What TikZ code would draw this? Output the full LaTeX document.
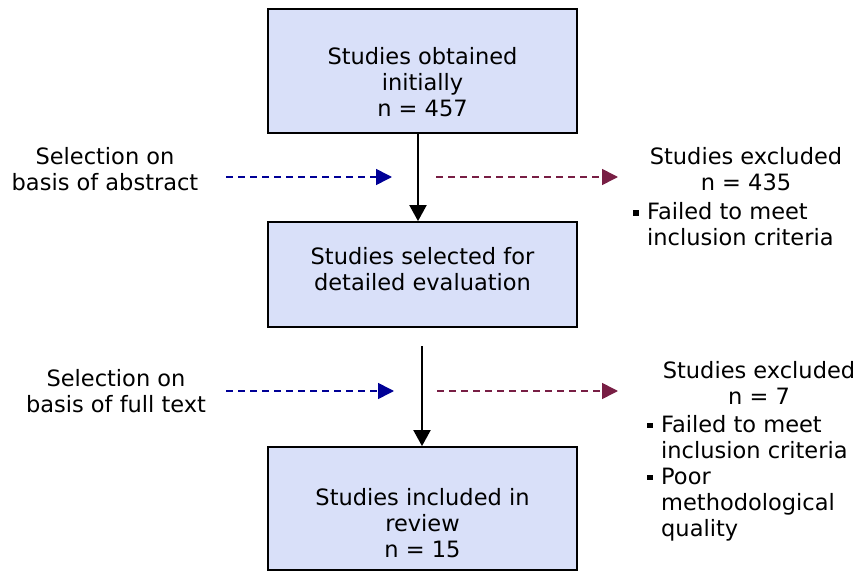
\documentclass[tikz,border=0pt]{standalone}
\usepackage{fontspec}
\setmainfont{DejaVu Sans}
\usetikzlibrary{arrows.meta}
\definecolor{boxfill}{RGB}{217,224,249}
\definecolor{selblue}{RGB}{0,0,150}
\definecolor{exmaroon}{RGB}{120,30,68}
\newcommand{\bul}{\makebox[14pt][l]{\rule[4pt]{5.5pt}{5.5pt}}}
\begin{document}
\begin{tikzpicture}[x=1pt,y=-1pt,
  box/.style={draw=black, line width=1.8pt, fill=boxfill, inner sep=0pt, minimum width=309pt},
  txt/.style={inner sep=0pt, anchor=base, font=\fontsize{22.5}{26}\selectfont},
  flow/.style={-{Triangle[length=16pt,width=17pt]}, line width=2pt, draw=black},
  sel/.style={draw=selblue, line width=1.6pt, dash pattern=on 7pt off 5pt, -{Triangle[length=16pt,width=16pt,fill=selblue]}},
  excl/.style={draw=exmaroon, line width=1.6pt, dash pattern=on 7pt off 5pt, -{Triangle[length=16pt,width=16pt,fill=exmaroon]}}]
\useasboundingbox (0,0) rectangle (860,572);

% boxes
\node[box, minimum height=124pt] (b1) at (422.5,71) {};
\node[box, minimum height=105pt] (b2) at (422.5,274.5) {};
\node[box, minimum height=123pt] (b3) at (422.5,508.5) {};

% box texts
\node[txt] (t1) at (422.5,65) {\begin{tabular}[t]{@{}c@{}}Studies obtained\\initially\\n = 457\end{tabular}};
\node[txt] (t2) at (422.5,265) {\begin{tabular}[t]{@{}c@{}}Studies selected for\\detailed evaluation\end{tabular}};
\node[txt] (t3) at (422.5,505) {\begin{tabular}[t]{@{}c@{}}Studies included in\\review\\n = 15\end{tabular}};

% left texts
\node[txt] (l1) at (105,165) {\begin{tabular}[t]{@{}c@{}}Selection on\\basis of abstract\end{tabular}};
\node[txt] (l2) at (116,386) {\begin{tabular}[t]{@{}c@{}}Selection on\\basis of full text\end{tabular}};

% right texts
\node[txt] (r1) at (746,165) {\begin{tabular}[t]{@{}c@{}}Studies excluded\\n = 435\end{tabular}};
\node[txt, anchor=base west] (r1b) at (633,220) {\begin{tabular}[t]{@{}l@{}}\bul Failed to meet\\\hspace*{14pt}inclusion criteria\end{tabular}};
\node[txt] (r2) at (759,378) {\begin{tabular}[t]{@{}c@{}}Studies excluded\\n = 7\end{tabular}};
\node[txt, anchor=base west] (r2b) at (647,432) {\begin{tabular}[t]{@{}l@{}}\bul Failed to meet\\\hspace*{14pt}inclusion criteria\\\bul Poor\\\hspace*{14pt}methodological\\\hspace*{14pt}quality\end{tabular}};

% main flow
\draw[flow] ([xshift=-4.5pt]b1.south) -- ([xshift=-4.5pt]b2.north);
\coordinate (a2) at (422,346);
\draw[flow] (a2) -- (a2 |- b3.north);

% dashed arrows
\coordinate (s1a) at (226,177);
\coordinate (s1b) at (392,177);
\coordinate (e1a) at (436,177);
\coordinate (e1b) at (618,177);
\coordinate (s2a) at (226,391);
\coordinate (s2b) at (394,391);
\coordinate (e2a) at (437,391);
\coordinate (e2b) at (618,391);
\draw[sel] (s1a) -- (s1b);
\draw[excl] (e1a) -- (e1b);
\draw[sel] (s2a) -- (s2b);
\draw[excl] (e2a) -- (e2b);
\end{tikzpicture}
\end{document}
